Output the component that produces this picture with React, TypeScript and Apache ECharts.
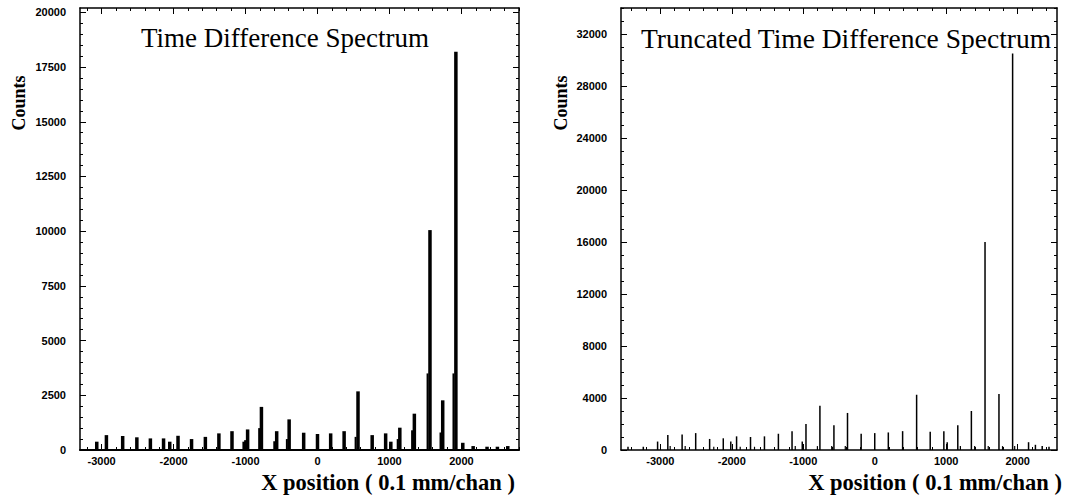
import React, { useEffect, useRef } from "react";
import * as echarts from "echarts";

// Left: Time Difference Spectrum — peak centres (0.1 mm/chan) and counts
const leftPeakX = [-3067, -2933, -2707, -2510, -2322, -2139, -2053, -1938, -1750, -1558, -1370, -1188, -1019, -971, -779, -567, -394, -192, 0, 183, 370, 563, 760, 947, 1019, 1144, 1346, 1563, 1740, 1923, 2019, 2163, 2356, 2500, 2644];
const leftPeakY = [380, 680, 640, 580, 530, 530, 380, 650, 500, 600, 760, 860, 380, 940, 1970, 860, 1400, 790, 730, 760, 860, 2680, 680, 760, 380, 1020, 1660, 10050, 2270, 18200, 330, 180, 150, 150, 180];
const leftShoulderX = [-800, -995, -590, -415, 540, 1125, 1325, 1540, 1720, 1900];
const leftShoulderY = [1000, 450, 400, 500, 600, 500, 900, 3500, 800, 3500];

// Right: Truncated Time Difference Spectrum
const rightPeakX = [-3452, -3238, -3038, -2895, -2695, -2505, -2310, -2119, -2014, -1933, -1738, -1543, -1348, -1157, -1014, -962, -767, -571, -381, -190, 0, 190, 390, 586, 776, 967, 1014, 1162, 1352, 1543, 1738, 1929, 2152, 2248, 2343, 2438];
const rightPeakY = [250, 250, 650, 1150, 1200, 1300, 850, 900, 650, 1050, 1000, 1050, 1250, 1450, 650, 2000, 3400, 1900, 2850, 1250, 1300, 1350, 1450, 4250, 1400, 1450, 600, 1900, 3000, 16000, 4300, 30500, 600, 400, 300, 250];
const rightSmallX = [-2860, -2650, -2250, -1880, -1680, -1110, -800, -600, -410, 1200, 1400, 1590, 1790, 1960];
const rightSmallY = [300, 300, 250, 250, 250, 300, 300, 300, 300, 300, 300, 300, 300, 300];

// Axis ranges and tick labels
const leftXRange = [-3300, 2800];
const rightXRange = [-3550, 2550];
const leftYRange = [0, 20200];
const rightYRange = [0, 34000];
const xTicks = [-3000, -2000, -1000, 0, 1000, 2000];
const leftYTicks = [0, 2500, 5000, 7500, 10000, 12500, 15000, 17500, 20000];
const rightYTicks = [0, 4000, 8000, 12000, 16000, 20000, 24000, 28000, 32000];
const xMinorStep = 200;
const leftYMinorStep = 500;
const rightYMinorStep = 1000;

const leftTitle = "Time Difference Spectrum";
const rightTitle = "Truncated Time Difference Spectrum";
const yName = "Counts";
const xName = "X position ( 0.1 mm/chan )";

const pairs = (xs: number[], ys: number[]) => xs.map((x, i) => [x, ys[i]]);
const minorValues = (range: number[], step: number, majors: number[]) => {
  const out: number[] = [];
  for (let v = Math.ceil(range[0] / step) * step; v <= range[1]; v += step) {
    if (!majors.includes(v)) out.push(v);
  }
  return out;
};

const labelFont = {
  fontFamily: "Liberation Sans, Arial, sans-serif",
  fontWeight: "bold" as const,
  fontSize: 11,
  color: "#000",
};

function axis(
  grid: number,
  range: number[],
  pos: string,
  ticks: number[],
  len: number,
  withLabels: boolean,
  lineWidth: number,
  margin: number
) {
  return {
    type: "value",
    gridIndex: grid,
    position: pos,
    min: range[0],
    max: range[1],
    axisLine: { show: lineWidth > 0, onZero: false, lineStyle: { color: "#000", width: lineWidth } },
    axisTick: { show: true, inside: true, length: len, customValues: ticks, lineStyle: { color: "#000", width: 1 } },
    minorTick: { show: false },
    splitLine: { show: false },
    axisLabel: {
      show: withLabels,
      ...labelFont,
      margin,
      customValues: ticks,
      formatter: (v: number) => String(v),
    },
  };
}

export default function App() {
  const ref = useRef<HTMLDivElement>(null);
  useEffect(() => {
    document.body.style.margin = "0";
    const chart = echarts.init(ref.current!, null, { renderer: "svg" });
    const bar = (ai: number, data: number[][], w: number) => ({
      type: "bar",
      xAxisIndex: ai,
      yAxisIndex: ai,
      data,
      barWidth: w,
      barGap: "-100%",
      itemStyle: { color: "#000" },
      silent: true,
    });
    const lxMinor = minorValues(leftXRange, xMinorStep, xTicks);
    const rxMinor = minorValues(rightXRange, xMinorStep, xTicks);
    const lyMinor = minorValues(leftYRange, leftYMinorStep, leftYTicks);
    const ryMinor = minorValues(rightYRange, rightYMinorStep, rightYTicks);
    chart.setOption({
      animation: false,
      backgroundColor: "#fff",
      grid: [
        { left: 80, top: 8, width: 439, height: 442 },
        { left: 621, top: 8, width: 436, height: 442 },
      ],
      xAxis: [
        axis(0, leftXRange, "bottom", xTicks, 6, true, 2, 5),
        axis(1, rightXRange, "bottom", xTicks, 6, true, 1.5, 5),
        axis(0, leftXRange, "top", xTicks, 6, false, 1.5, 5),
        axis(1, rightXRange, "top", xTicks, 6, false, 1.5, 5),
        axis(0, leftXRange, "bottom", lxMinor, 3, false, 0, 5),
        axis(1, rightXRange, "bottom", rxMinor, 3, false, 0, 5),
        axis(0, leftXRange, "top", lxMinor, 3, false, 0, 5),
        axis(1, rightXRange, "top", rxMinor, 3, false, 0, 5),
      ],
      yAxis: [
        axis(0, leftYRange, "left", leftYTicks, 6, true, 1.5, 14),
        axis(1, rightYRange, "left", rightYTicks, 6, true, 1.5, 14),
        axis(0, leftYRange, "right", leftYTicks, 6, false, 1.5, 8),
        axis(1, rightYRange, "right", rightYTicks, 6, false, 1.5, 8),
        axis(0, leftYRange, "left", lyMinor, 3, false, 0, 8),
        axis(1, rightYRange, "left", ryMinor, 3, false, 0, 8),
        axis(0, leftYRange, "right", lyMinor, 3, false, 0, 8),
        axis(1, rightYRange, "right", ryMinor, 3, false, 0, 8),
      ],
      series: [
        bar(0, pairs(leftShoulderX, leftShoulderY), 2),
        bar(0, pairs(leftPeakX, leftPeakY), 3.5),
        bar(1, pairs(rightSmallX, rightSmallY), 1.2),
        bar(1, pairs(rightPeakX, rightPeakY), 1.5),
      ],
      graphic: [
        {
          type: "text", x: 285, y: 38,
          style: { text: leftTitle, font: '27px "Liberation Serif", serif', fill: "#000", textAlign: "center", textVerticalAlign: "middle" },
        },
        {
          type: "text", x: 846, y: 38,
          style: { text: rightTitle, font: '27.5px "Liberation Serif", serif', fill: "#000", textAlign: "center", textVerticalAlign: "middle" },
        },
        {
          type: "text", x: 19, y: 103, rotation: Math.PI / 2,
          style: { text: yName, font: 'bold 18px "Liberation Serif", serif', fill: "#000", textAlign: "center", textVerticalAlign: "middle" },
        },
        {
          type: "text", x: 561, y: 103, rotation: Math.PI / 2,
          style: { text: yName, font: 'bold 18px "Liberation Serif", serif', fill: "#000", textAlign: "center", textVerticalAlign: "middle" },
        },
        {
          type: "text", x: 515, y: 482,
          style: { text: xName, font: 'bold 22.5px "Liberation Serif", serif', fill: "#000", textAlign: "right", textVerticalAlign: "middle" },
        },
        {
          type: "text", x: 1062, y: 482,
          style: { text: xName, font: 'bold 22.5px "Liberation Serif", serif', fill: "#000", textAlign: "right", textVerticalAlign: "middle" },
        },
      ],
    });
    return () => chart.dispose();
  }, []);
  return <div ref={ref} style={{ width: 1068, height: 499 }} />;
}
